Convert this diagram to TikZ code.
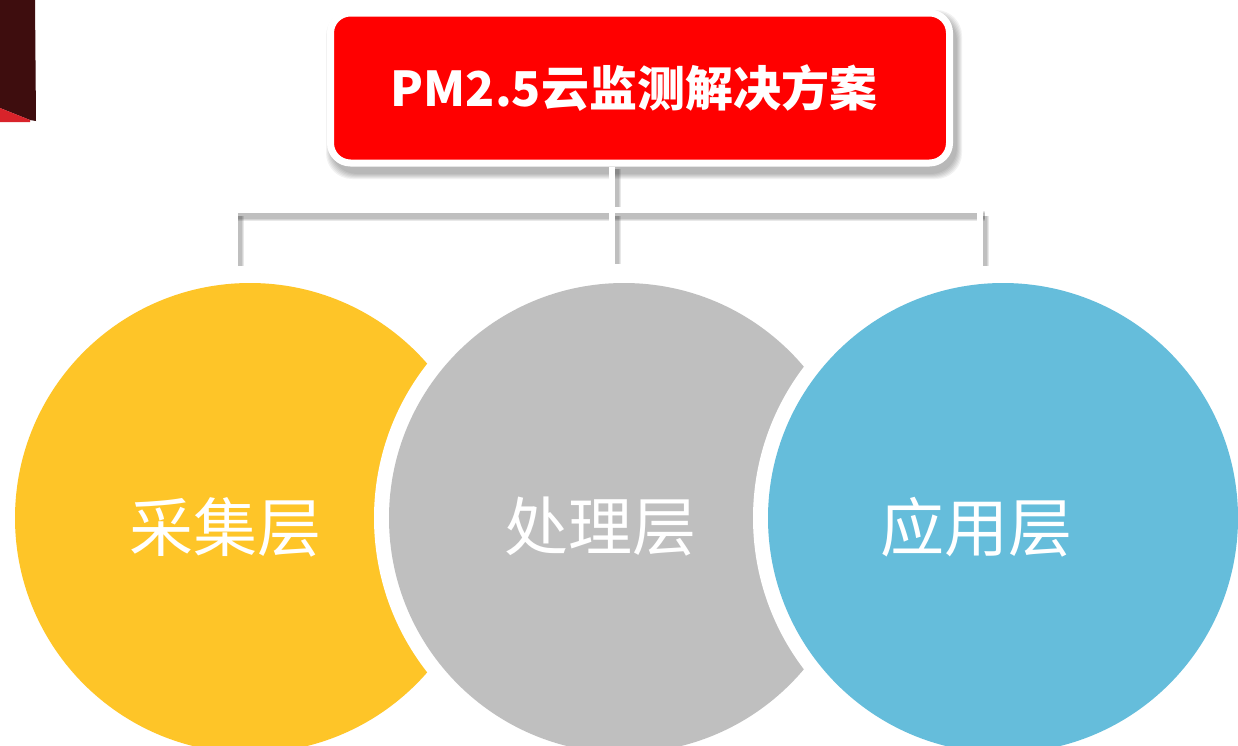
\documentclass[tikz,border=0pt]{standalone}
\usepackage{fontspec}
\newfontfamily\cjk{Noto Sans CJK SC}
\definecolor{cYellow}{HTML}{FEC528}
\definecolor{cGray}{HTML}{BFBFBF}
\definecolor{cBlue}{HTML}{65BDDB}
\definecolor{cRed}{HTML}{FF0000}
\definecolor{cDark}{HTML}{3E0D0E}
\definecolor{cDeco}{HTML}{D8232A}
\tikzset{
  layer/.style={circle, minimum size=470pt, inner sep=0pt},
  layertext/.style={text=white, font=\cjk\fontsize{64}{72}\selectfont},
  ring/.style={circle, fill=white, minimum size=500pt, inner sep=0pt},
  wire/.style={draw=white, line width=6.5pt},
  wireshadow/.style={draw=black, opacity=0.09},
}
\begin{document}
\begin{tikzpicture}[x=1pt,y=-1pt]
\useasboundingbox (0,0) rectangle (1238,745);
\fill[white] (0,0) rectangle (1238,745);
% corner decoration
\fill[cDark] (0,0) -- (35,0) -- (36,121) -- (30,120) -- (0,108) -- cycle;
\fill[cDeco] (0,108) -- (30,120) -- (30,122) -- (0,122) -- cycle;
% title shadow
\foreach \k in {0,1,2,3,4,5}{
  \fill[black, opacity=0.05, rounded corners=26pt] (327+4-\k,8+7-\k) rectangle (953+4+\k,167+7+\k);
}
\node[draw=white, line width=7pt, fill=cRed, rounded corners=20pt, minimum width=619pt, minimum height=150pt, inner sep=0pt] (title) at (640,88) {};
\node[text=white, font=\cjk\bfseries\fontsize{48}{56}\selectfont] (titletext) at (634,88) {PM2.5云监测解决方案};
% connector points
\coordinate (j) at (612,210);
\coordinate (ts) at (title.south -| j);
\coordinate (jl) at (235,210);
\coordinate (jr) at (980,210);
\coordinate (el) at (235,266);
\coordinate (em) at (612,264);
\coordinate (er) at (980,266);
% connector shadows
\foreach \k in {0,1,2}{
  \draw[wireshadow, line width={6+2*\k}] ([xshift=4pt,yshift=-2pt]ts) -- ([xshift=4pt]j);
  \draw[wireshadow, line width={6+2*\k}] ([xshift=3pt,yshift=-6pt]jl) -- ([xshift=5pt,yshift=-6pt]jr);
  \draw[wireshadow, line width={6+2*\k}] ([xshift=4pt,yshift=-6pt]jl) -- ([xshift=4pt]el);
  \draw[wireshadow, line width={6+2*\k}] ([xshift=4pt,yshift=-6pt]j) -- ([xshift=4pt]em);
  \draw[wireshadow, line width={6+2*\k}] ([xshift=4pt,yshift=-6pt]jr) -- ([xshift=4pt]er);
}
\draw[wire] (ts) -- (j);
\draw[wire, line cap=rect] (jl) -- (jr);
\draw[wire] (jl) -- (el);
\draw[wire] (j) -- (em);
\draw[wire] (jr) -- (er);
% circles
\node[layer, fill=cYellow] (c1) at (250,518) {};
\node[ring] (r2) at (624,518) {};
\node[layer, fill=cGray] (c2) at (624,518) {};
\node[ring] (r3) at (1003,518) {};
\node[layer, fill=cBlue] (c3) at (1003,518) {};
\node[layertext] (t1) at (225,527) {采集层};
\node[layertext] (t2) at (600,527) {处理层};
\node[layertext] (t3) at (976,527) {应用层};
\end{tikzpicture}
\end{document}
